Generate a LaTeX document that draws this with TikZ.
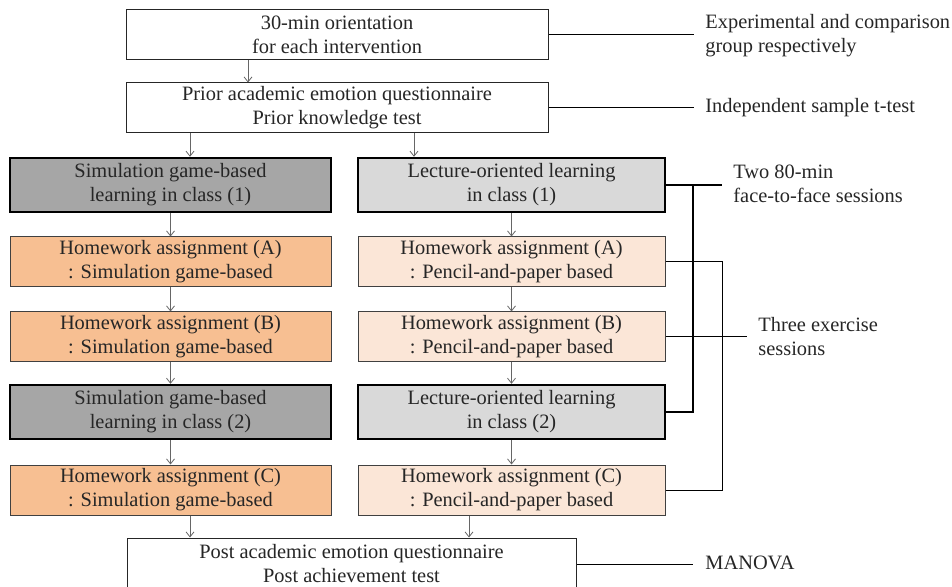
\documentclass[tikz,border=0pt]{standalone}
\usepackage{fontspec}
\setmainfont{Liberation Serif}
\usetikzlibrary{arrows.meta}

\definecolor{simgray}{HTML}{A6A6A6}
\definecolor{lecgray}{HTML}{D9D9D9}
\definecolor{simorange}{HTML}{F7BF92}
\definecolor{lecpeach}{HTML}{FBE6D7}

\begin{document}
\begin{tikzpicture}
  [x=0.5pt,y=-0.5pt,
   every node/.style={font=\fontsize{10.2}{12}\selectfont,text=black!85,align=center,inner sep=0pt},
   plain/.style={draw=black!85,line width=0.5pt,fill=white,minimum width=211pt,minimum height=25pt},
   simcol/.style={minimum width=160.5pt,minimum height=25pt},
   leccol/.style={minimum width=153.5pt,minimum height=25pt},
   inclass/.style={draw=black,line width=1.2pt,minimum height=27pt},
   simhw/.style={simcol,draw=black!75,line width=0.5pt,fill=simorange},
   lechw/.style={leccol,draw=black!75,line width=0.5pt,fill=lecpeach},
   lbl/.style={anchor=west,align=left},
   arr/.style={draw=black!60,line width=0.4pt,-{Straight Barb[length=2.5pt,width=4pt]}},
   link/.style={draw=black,line width=0.5pt},
   boldlink/.style={draw=black,line width=1.1pt}]
  \useasboundingbox (0,0) rectangle (952,587);

  \node[plain] (orient) at (337,35) {30-min orientation\\for each intervention};
  \node[plain] (prior) at (337,108) {Prior academic emotion questionnaire\\Prior knowledge test};

  \node[simcol,inclass,fill=simgray] (sim1) at (170.5,185) {Simulation game-based\\learning in class (1)};
  \node[simhw] (hwAs) at (170.5,262) {Homework assignment (A)\\: Simulation game-based};
  \node[simhw] (hwBs) at (170.5,337) {Homework assignment (B)\\: Simulation game-based};
  \node[simcol,inclass,fill=simgray] (sim2) at (170.5,412) {Simulation game-based\\learning in class (2)};
  \node[simhw] (hwCs) at (170.5,490) {Homework assignment (C)\\: Simulation game-based};

  \node[leccol,inclass,fill=lecgray] (lec1) at (511.5,185) {Lecture-oriented learning\\in class (1)};
  \node[lechw] (hwAl) at (511.5,262) {Homework assignment (A)\\: Pencil-and-paper based};
  \node[lechw] (hwBl) at (511.5,337) {Homework assignment (B)\\: Pencil-and-paper based};
  \node[leccol,inclass,fill=lecgray] (lec2) at (511.5,412) {Lecture-oriented learning\\in class (2)};
  \node[lechw] (hwCl) at (511.5,490) {Homework assignment (C)\\: Pencil-and-paper based};

  \node[plain,minimum width=224.5pt,minimum height=26pt] (post) at (351.5,564) {Post academic emotion questionnaire\\Post achievement test};

  \node[lbl] (groups) at (705,36) {Experimental and comparison\\group respectively};
  \node[lbl] (ttest) at (705,108) {Independent sample t-test};
  \node[lbl] (f2f) at (733,184) {Two 80-min\\face-to-face sessions};
  \node[lbl] (exercise) at (758,337) {Three exercise\\sessions};
  \node[lbl] (manova) at (705,563) {MANOVA};

  \foreach \from/\to in {sim1/hwAs,hwAs/hwBs,hwBs/sim2,sim2/hwCs,
                         lec1/hwAl,hwAl/hwBl,hwBl/lec2,lec2/hwCl}
    \draw[arr] (\from) -- (\to);

  % split and merge arrows
  \coordinate (ol) at ([xshift=-44.5pt]orient.south);
  \coordinate (pl) at ([xshift=-73.5pt]prior.south);
  \coordinate (pr) at ([xshift=38.5pt]prior.south);
  \coordinate (cl) at ([xshift=9.75pt]hwCs.south);
  \coordinate (cr) at ([xshift=-21.25pt]hwCl.south);
  \draw[arr] (ol) -- (ol |- prior.north);
  \draw[arr] (pl) -- (pl |- sim1.north);
  \draw[arr] (pr) -- (pr |- lec1.north);
  \draw[arr] (cl) -- (cl |- post.north);
  \draw[arr] (cr) -- (cr |- post.north);

  % side notes
  \coordinate (groupsEnd) at (694,35);
  \coordinate (ttestEnd) at (694,108);
  \coordinate (f2fEnd) at (722,185);
  \coordinate (f2fSpine) at (693,185);
  \coordinate (exerSpine) at (722,337);
  \coordinate (exerEnd) at (747,337);
  \coordinate (manovaEnd) at (693,564);

  \draw[link] (orient.east) -- (groupsEnd);
  \draw[link] (prior.east) -- (ttestEnd);
  \draw[boldlink] (lec1.east) -- (f2fEnd);
  \draw[boldlink] (f2fSpine) |- (lec2.east);
  \draw[link] (hwAl.east) -| (exerSpine) |- (hwCl.east);
  \draw[link] (hwBl.east) -- (exerEnd);
  \draw[link] (post.east) -- (manovaEnd);

\end{tikzpicture}
\end{document}
